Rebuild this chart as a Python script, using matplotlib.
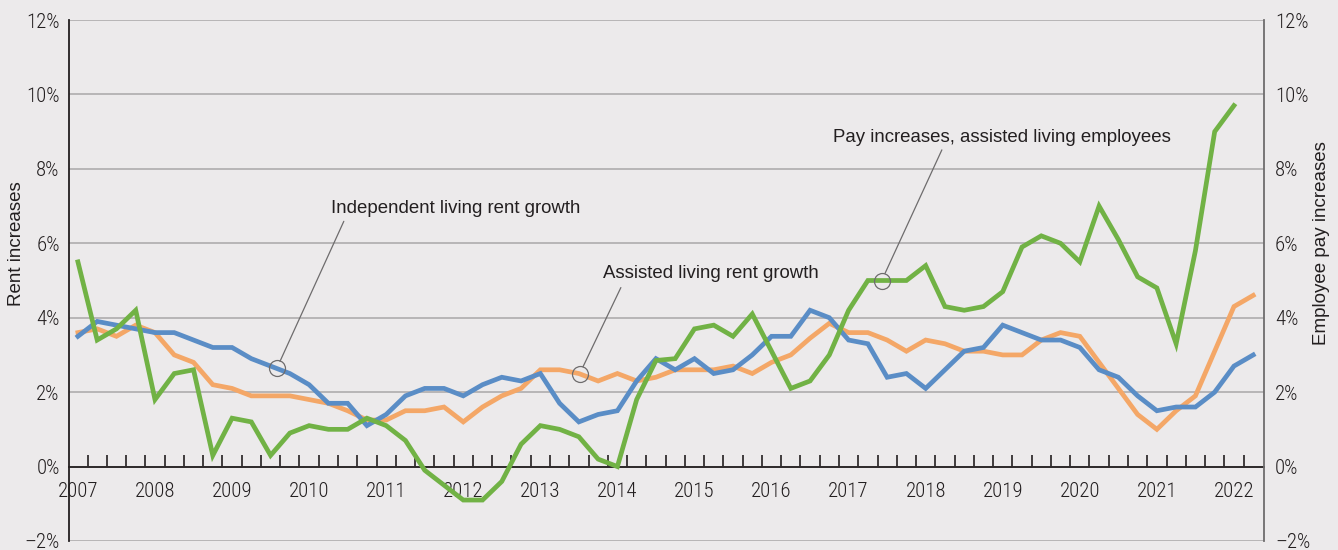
import numpy as np
import matplotlib
matplotlib.use('Agg')
import matplotlib.pyplot as plt

# quarterly series, 2007 Q1 onwards (percent)
independent = [3.5, 3.9, 3.8, 3.7, 3.6, 3.6, 3.4, 3.2, 3.2, 2.9, 2.7, 2.5,
               2.2, 1.7, 1.7, 1.1, 1.4, 1.9, 2.1, 2.1, 1.9, 2.2, 2.4, 2.3,
               2.5, 1.7, 1.2, 1.4, 1.5, 2.3, 2.9, 2.6, 2.9, 2.5, 2.6, 3.0,
               3.5, 3.5, 4.2, 4.0, 3.4, 3.3, 2.4, 2.5, 2.1, 2.6, 3.1, 3.2,
               3.8, 3.6, 3.4, 3.4, 3.2, 2.6, 2.4, 1.9, 1.5, 1.6, 1.6, 2.0,
               2.7, 3.0]
assisted = [3.6, 3.7, 3.5, 3.8, 3.6, 3.0, 2.8, 2.2, 2.1, 1.9, 1.9, 1.9,
            1.8, 1.7, 1.5, 1.25, 1.25, 1.5, 1.5, 1.6, 1.2, 1.6, 1.9, 2.1,
            2.6, 2.6, 2.5, 2.3, 2.5, 2.3, 2.4, 2.6, 2.6, 2.6, 2.7, 2.5,
            2.8, 3.0, 3.45, 3.85, 3.6, 3.6, 3.4, 3.1, 3.4, 3.3, 3.1, 3.1,
            3.0, 3.0, 3.4, 3.6, 3.5, 2.8, 2.1, 1.4, 1.0, 1.5, 1.9, 3.1,
            4.3, 4.6]
pay = [5.5, 3.4, 3.7, 4.2, 1.8, 2.5, 2.6, 0.3, 1.3, 1.2, 0.3, 0.9,
       1.1, 1.0, 1.0, 1.3, 1.1, 0.7, -0.1, -0.5, -0.9, -0.9, -0.4, 0.6,
       1.1, 1.0, 0.8, 0.2, 0.0, 1.8, 2.85, 2.9, 3.7, 3.8, 3.5, 4.1,
       3.1, 2.1, 2.3, 3.0, 4.2, 5.0, 5.0, 5.0, 5.4, 4.3, 4.2, 4.3,
       4.7, 5.9, 6.2, 6.0, 5.5, 7.0, 6.1, 5.1, 4.8, 3.3, 5.8, 9.0,
       9.7]

years = list(range(2007, 2023))
y_ticks = [-2, 0, 2, 4, 6, 8, 10, 12]
y_labels = ['\u20132%' if v < 0 else f'{v}%' for v in y_ticks]

BG = '#ECEAEB'
TXT = '#231F20'
C_BLUE = '#5A8DC6'
C_ORANGE = '#F4A767'
C_GREEN = '#71B245'
NARROW = ['Roboto Condensed', 'Archivo Narrow', 'PT Sans Narrow', 'Liberation Sans', 'DejaVu Sans']
REG = ['Liberation Sans', 'DejaVu Sans']


def quarters(n):
    return 2007 + np.arange(n) / 4.0


fig = plt.figure(figsize=(13.38, 5.5), dpi=100)
fig.patch.set_facecolor(BG)
ax = fig.add_axes([0.0519, 0.0164, 0.8928, 0.9472])
ax.set_facecolor(BG)

x_ind = quarters(len(independent))
x_ast = quarters(len(assisted))
x_pay = quarters(len(pay))

ax.plot(x_ast, assisted, color=C_ORANGE, lw=3.4, solid_joinstyle='miter', zorder=3)
ax.plot(x_ind, independent, color=C_BLUE, lw=3.4, solid_joinstyle='miter', zorder=4)

ax.set_xlim(2006.89, 2022.39)
ax.set_ylim(-2, 12)
ax.set_yticks(y_ticks)
ax.set_yticklabels(y_labels, family=NARROW, fontsize=15, weight='light', color=TXT)
ax.tick_params(axis='y', length=0, pad=7)
ax.grid(axis='y', color='#AEACAD', lw=1.2, zorder=0)
ax.set_axisbelow(True)

# x axis sits on the 0% line, quarter ticks pointing up
ax.spines['bottom'].set_position(('data', 0))
ax.spines['bottom'].set_color(TXT)
ax.spines['bottom'].set_linewidth(1.3)
ax.spines['top'].set_visible(False)
ax.spines['left'].set_color(TXT)
ax.spines['left'].set_linewidth(1.3)
ax.spines['right'].set_visible(False)
ax.set_xticks(years)
ax.set_xticklabels([str(y) for y in years], family=NARROW, fontsize=15, weight='light', color=TXT)
ax.set_xticks(2007.125 + 0.25 * np.arange(61), minor=True)
ax.tick_params(axis='x', which='major', length=0, pad=11)
ax.tick_params(axis='x', which='minor', direction='in', length=9, width=1.2, color=TXT)

ax.set_ylabel('Rent increases', family=REG, fontsize=13.5, color=TXT)
ax.yaxis.set_label_coords(-0.0372, 0.571)

# pay increases on the right axis
ax2 = ax.twinx()
ax2.plot(x_pay, pay, color=C_GREEN, lw=3.4, solid_joinstyle='miter', zorder=5)
ax2.set_ylim(-2, 12)
ax2.set_yticks(y_ticks)
ax2.set_yticklabels(y_labels, family=NARROW, fontsize=15, weight='light', color=TXT)
ax2.tick_params(axis='y', length=0, pad=8)
for s in ('top', 'bottom', 'left'):
    ax2.spines[s].set_visible(False)
ax2.spines['right'].set_color('#6E6C6D')
ax2.spines['right'].set_linewidth(1.3)
ax2.set_ylabel('Employee pay increases', family=REG, fontsize=13.5, color=TXT,
               rotation=90, va='center')
ax2.yaxis.set_label_coords(1.048, 0.571)

# callouts: (label, series x, series y, circle x, text x, text y, line top x, line top y)
callouts = [
    ('Independent living rent growth', x_ind, independent, 2009.58, 2010.29, 6.93, 2010.45, 6.59),
    ('Assisted living rent growth', x_ast, assisted, 2013.51, 2013.81, 5.18, 2014.045, 4.81),
    ('Pay increases, assisted living employees', x_pay, pay, 2017.43, 2016.795, 8.83, 2018.21, 8.51),
]
for label, xs, ys, cx, tx, ty, lx, ly in callouts:
    cy = np.interp(cx, xs, ys)
    ax2.annotate('', xy=(cx, cy), xytext=(lx, ly),
                 arrowprops=dict(arrowstyle='-', color='#6E6C6D', lw=0.9,
                                 shrinkA=0, shrinkB=5.6), zorder=6)
    ax2.plot([cx], [cy], marker='o', ms=11.5, mfc='none', mec='#6E6C6D', mew=0.9, zorder=6)
    ax2.text(tx, ty, label, family=REG, fontsize=13.4, color=TXT, ha='left', va='center', zorder=6)

fig.savefig('out.png', dpi=100, facecolor=BG)
